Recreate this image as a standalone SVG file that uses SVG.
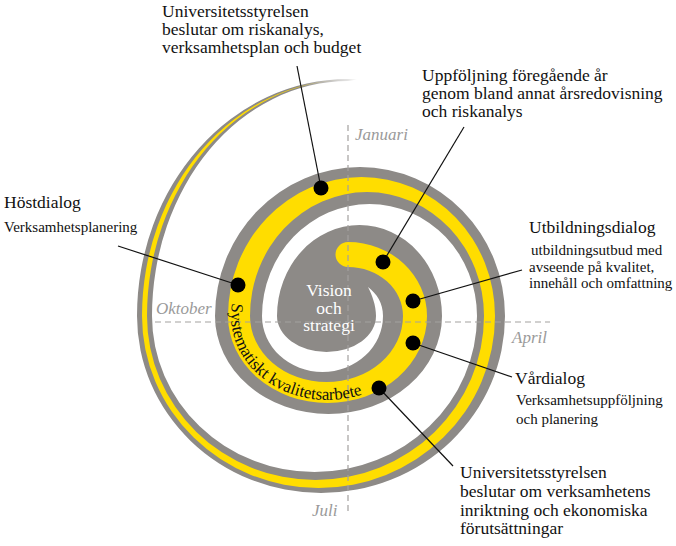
<svg xmlns="http://www.w3.org/2000/svg" xmlns:xlink="http://www.w3.org/1999/xlink" width="676" height="546" viewBox="0 0 676 546">
<style>
.lbl{font-family:"Liberation Serif","Times New Roman",serif;font-size:17.5px;fill:#111}
.sub{font-family:"Liberation Serif","Times New Roman",serif;font-size:15px;fill:#111}
.month{font-family:"Liberation Serif","Times New Roman",serif;font-size:17px;font-style:italic;fill:#9a9a9a}
.ctr{font-family:"Liberation Serif","Times New Roman",serif;font-size:17.5px;fill:#fff;text-anchor:middle}
.axis{stroke:#a3a19f;stroke-width:1.2;stroke-dasharray:6 4;fill:none}
.con{stroke:#111;stroke-width:1.2;fill:none}
.dot{fill:#000}
</style>
<defs>
<path id="tp" d="M 232.1 303 A 130 136 0 0 0 231 316 A 96.5 84 0 0 0 424 316"/>
<linearGradient id="fade" x1="0" y1="0" x2="1" y2="0">
<stop offset="0" stop-color="#fff" stop-opacity="0"/>
<stop offset="1" stop-color="#fff" stop-opacity="1"/>
</linearGradient>
</defs>
<g id="spiral">
<path id="gray-band" fill="#8d8a87" d="M 368 287 C 372 295 376 305 376 316 A 49.5 36 0 0 1 277 316 A 82.5 91 0 0 1 442 316 A 113.5 98 0 0 1 215 316 A 145 149 0 0 1 505 316 A 184 177 0 0 1 137 316 A 211 237 0 0 1 348 79 L 357 79.5 L 348 81 A 196 235 0 0 0 152 316 A 162.5 156 0 0 0 477 316 A 107.5 112 0 0 0 262 316 A 60.5 56 0 0 0 383 316 C 383 303 377 294 368 287 Z"/>
<path id="yellow-band" fill="#ffdd00" d="M 348 242 A 79 74 0 0 1 427 316 A 99.5 87 0 0 1 228 316 A 133.5 139 0 0 1 495 316 A 176.5 172 0 0 1 142 316 A 206 236 0 0 1 348 80 A 201 236 0 0 0 147 316 A 168.5 164 0 0 0 484 316 A 117 124 0 0 0 250 316 A 76.5 66 0 0 0 403 316 A 55 49 0 0 0 348 267 A 12.5 12.5 0 0 1 348 242 Z"/>
<rect x="300" y="70" width="62" height="22" fill="url(#fade)"/>
</g>
<g id="axes">
<line class="axis" x1="348" y1="125" x2="348" y2="514"/>
<line class="axis" x1="155" y1="322" x2="550" y2="322"/>
<text class="month" x="355" y="140">Januari</text>
<text class="month" x="156" y="314">Oktober</text>
<text class="month" x="512" y="343">April</text>
<text class="month" x="312" y="516">Juli</text>
</g>
<g id="center">
<text class="ctr" x="329" y="296">Vision</text>
<text class="ctr" x="329" y="313.5">och</text>
<text class="ctr" x="329" y="331">strategi</text>
</g>
<g id="band-label">
<text font-family="Liberation Serif, Times New Roman, serif" font-size="17" fill="#111"><textPath xlink:href="#tp" href="#tp">Systematiskt kvalitetsarbete</textPath></text>
</g>
<g id="connectors">
<line class="con" x1="297" y1="66" x2="321" y2="188"/>
<line class="con" x1="464" y1="127" x2="383" y2="262"/>
<line class="con" x1="118" y1="246" x2="238" y2="285"/>
<line class="con" x1="522" y1="270" x2="413" y2="301"/>
<line class="con" x1="512" y1="377" x2="413" y2="343"/>
<line class="con" x1="453" y1="466" x2="379" y2="388"/>
</g>
<g id="node-styrelsen-budget">
<circle class="dot" cx="321" cy="188" r="7.5"/>
<text class="lbl" x="162" y="17">Universitetsstyrelsen</text>
<text class="lbl" x="162" y="35">beslutar om riskanalys,</text>
<text class="lbl" x="162" y="53">verksamhetsplan och budget</text>
</g>
<g id="node-uppfoljning">
<circle class="dot" cx="383" cy="262" r="7.5"/>
<text class="lbl" x="422" y="81">Uppföljning föregående år</text>
<text class="lbl" x="422" y="99">genom bland annat årsredovisning</text>
<text class="lbl" x="422" y="117">och riskanalys</text>
</g>
<g id="node-hostdialog">
<circle class="dot" cx="238" cy="285" r="7.5"/>
<text class="lbl" x="4" y="208">Höstdialog</text>
<text class="sub" x="4" y="232">Verksamhetsplanering</text>
</g>
<g id="node-utbildningsdialog">
<circle class="dot" cx="413" cy="301" r="7.5"/>
<text class="lbl" x="529" y="233">Utbildningsdialog</text>
<text class="sub" x="531" y="255">utbildningsutbud med</text>
<text class="sub" x="529" y="272">avseende på kvalitet,</text>
<text class="sub" x="529" y="288">innehåll och omfattning</text>
</g>
<g id="node-vardialog">
<circle class="dot" cx="413" cy="343" r="7.5"/>
<text class="lbl" x="515" y="384">Vårdialog</text>
<text class="sub" x="516" y="405">Verksamhetsuppföljning</text>
<text class="sub" x="516" y="424">och planering</text>
</g>
<g id="node-styrelsen-inriktning">
<circle class="dot" cx="379" cy="388" r="7.5"/>
<text class="lbl" x="460" y="478">Universitetsstyrelsen</text>
<text class="lbl" x="460" y="497">beslutar om verksamhetens</text>
<text class="lbl" x="460" y="516">inriktning och ekonomiska</text>
<text class="lbl" x="460" y="534">förutsättningar</text>
</g>
</svg>
